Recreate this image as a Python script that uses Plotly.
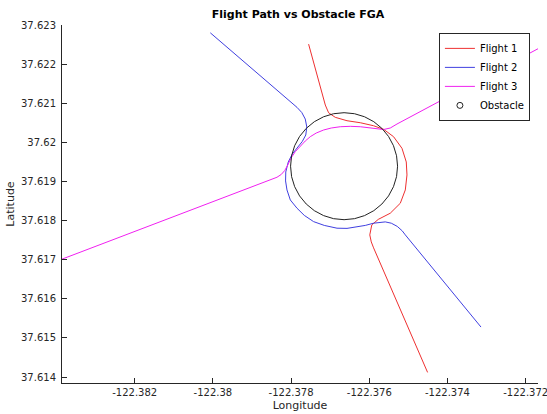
import plotly.graph_objects as go

# Flight 1 (red)
f1_lon = [-122.377552, -122.377125, -122.377041, -122.376870, -122.376570, -122.376230,
          -122.375890, -122.375634, -122.375379, -122.375164, -122.375054, -122.375036,
          -122.375079, -122.375207, -122.375463, -122.375770, -122.375936, -122.375987,
          -122.375949, -122.375890, -122.374509]
f1_lat = [37.622511, 37.620954, 37.620757, 37.620640, 37.620553, 37.620502,
          37.620425, 37.620333, 37.620145, 37.619848, 37.619499, 37.619167,
          37.618784, 37.618444, 37.618189, 37.618031, 37.617890, 37.617635,
          37.617456, 37.617303, 37.614120]

# Flight 2 (blue)
f2_lon = [-122.380066, -122.377849, -122.377726, -122.377637, -122.377598, -122.377624,
          -122.377714, -122.377829, -122.377969, -122.378072, -122.378136, -122.378141,
          -122.378105, -122.378020, -122.377849, -122.377662, -122.377425, -122.377151,
          -122.376826, -122.376570, -122.376315, -122.376102, -122.375890, -122.375744,
          -122.375591, -122.375437, -122.375284, -122.375156, -122.375079, -122.373143]
f2_lat = [37.622800, 37.620895, 37.620762, 37.620596, 37.620392, 37.620188,
          37.620022, 37.619869, 37.619703, 37.619499, 37.619243, 37.619014,
          37.618784, 37.618528, 37.618317, 37.618133, 37.617974, 37.617877,
          37.617806, 37.617801, 37.617832, 37.617877, 37.617934, 37.617959,
          37.617967, 37.617934, 37.617852, 37.617737, 37.617635, 37.615279]

# Flight 3 (magenta)
f3_lon = [-122.383859, -122.378361, -122.378251, -122.378161, -122.378084, -122.378008,
          -122.377893, -122.377765, -122.377637, -122.377509, -122.377356, -122.377169,
          -122.376972, -122.376742, -122.376486, -122.376230, -122.376000, -122.375803,
          -122.375634, -122.375463, -122.375292, -122.371670]
f3_lat = [37.617015, 37.619108, 37.619180, 37.619282, 37.619422, 37.619588,
          37.619762, 37.619907, 37.620035, 37.620145, 37.620239, 37.620316,
          37.620367, 37.620400, 37.620410, 37.620400, 37.620374, 37.620333,
          37.620328, 37.620367, 37.620469, 37.622401]

# Obstacle
obstacle_lon = [-122.376645]
obstacle_lat = [37.619391]

x_ticks = [-122.382, -122.380, -122.378, -122.376, -122.374, -122.372]
x_tick_text = ["-122.382", "-122.38", "-122.378", "-122.376", "-122.374", "-122.372"]
y_ticks = [37.614, 37.615, 37.616, 37.617, 37.618, 37.619, 37.620, 37.621, 37.622, 37.623]
y_tick_text = ["37.614", "37.615", "37.616", "37.617", "37.618", "37.619", "37.62",
               "37.621", "37.622", "37.623"]

AX = "#262626"
FONT = "DejaVu Sans"

fig = go.Figure()
fig.add_trace(go.Scatter(x=f1_lon, y=f1_lat, mode="lines", name="Flight 1",
                         line=dict(color="#ee3030", width=1)))
fig.add_trace(go.Scatter(x=f2_lon, y=f2_lat, mode="lines", name="Flight 2",
                         line=dict(color="#4040e0", width=1)))
fig.add_trace(go.Scatter(x=f3_lon, y=f3_lat, mode="lines", name="Flight 3",
                         line=dict(color="#f020f0", width=1)))
# obstacle drawn as a large open circle marker
fig.add_trace(go.Scatter(x=obstacle_lon, y=obstacle_lat, mode="markers", showlegend=False,
                         marker=dict(symbol="circle-open", size=107,
                                     line=dict(color="#222222", width=1), color="#222222")))
# legend entry for obstacle
fig.add_trace(go.Scatter(x=[None], y=[None], mode="markers", name="Obstacle",
                         marker=dict(symbol="circle-open", size=6,
                                     line=dict(color="#222222", width=1), color="#222222")))

fig.update_layout(
    template="none",
    width=547, height=414,
    margin=dict(l=62, r=9, t=25, b=31, autoexpand=False),
    paper_bgcolor="white", plot_bgcolor="white",
    font=dict(family=FONT, size=10, color=AX),
    title=dict(text="<b>Flight Path vs Obstacle FGA</b>", x=0.496, xref="paper",
               xanchor="center", y=0.966, yref="container", yanchor="middle",
               font=dict(family=FONT, size=11, color="black")),
    legend=dict(x=0.983, y=0.978, xanchor="right", yanchor="top",
                bordercolor=AX, borderwidth=1, bgcolor="white",
                font=dict(family=FONT, size=10, color="black"),
                tracegroupgap=0, itemwidth=30),
    showlegend=True,
)
fig.update_xaxes(range=[-122.383859, -122.371685], tickvals=x_ticks, ticktext=x_tick_text,
                 ticks="inside", ticklen=5, tickcolor=AX, showline=True, linecolor=AX,
                 linewidth=1, showgrid=False, zeroline=False, mirror=False, automargin=False,
                 ticklabeloverflow="allow",
                 title=dict(text="Longitude", standoff=4, font=dict(size=11, color=AX)))
fig.update_yaxes(range=[37.613849, 37.623], tickvals=y_ticks, ticktext=y_tick_text,
                 ticks="inside", ticklen=5, tickcolor=AX, showline=True, linecolor=AX,
                 linewidth=1, showgrid=False, zeroline=False, mirror=False, automargin=False,
                 ticklabelstandoff=3,
                 title=dict(text="Latitude", standoff=4, font=dict(size=11, color=AX)))

fig.write_html("out.html", config={"displayModeBar": False},
               post_script="document.body.style.margin='0';")
